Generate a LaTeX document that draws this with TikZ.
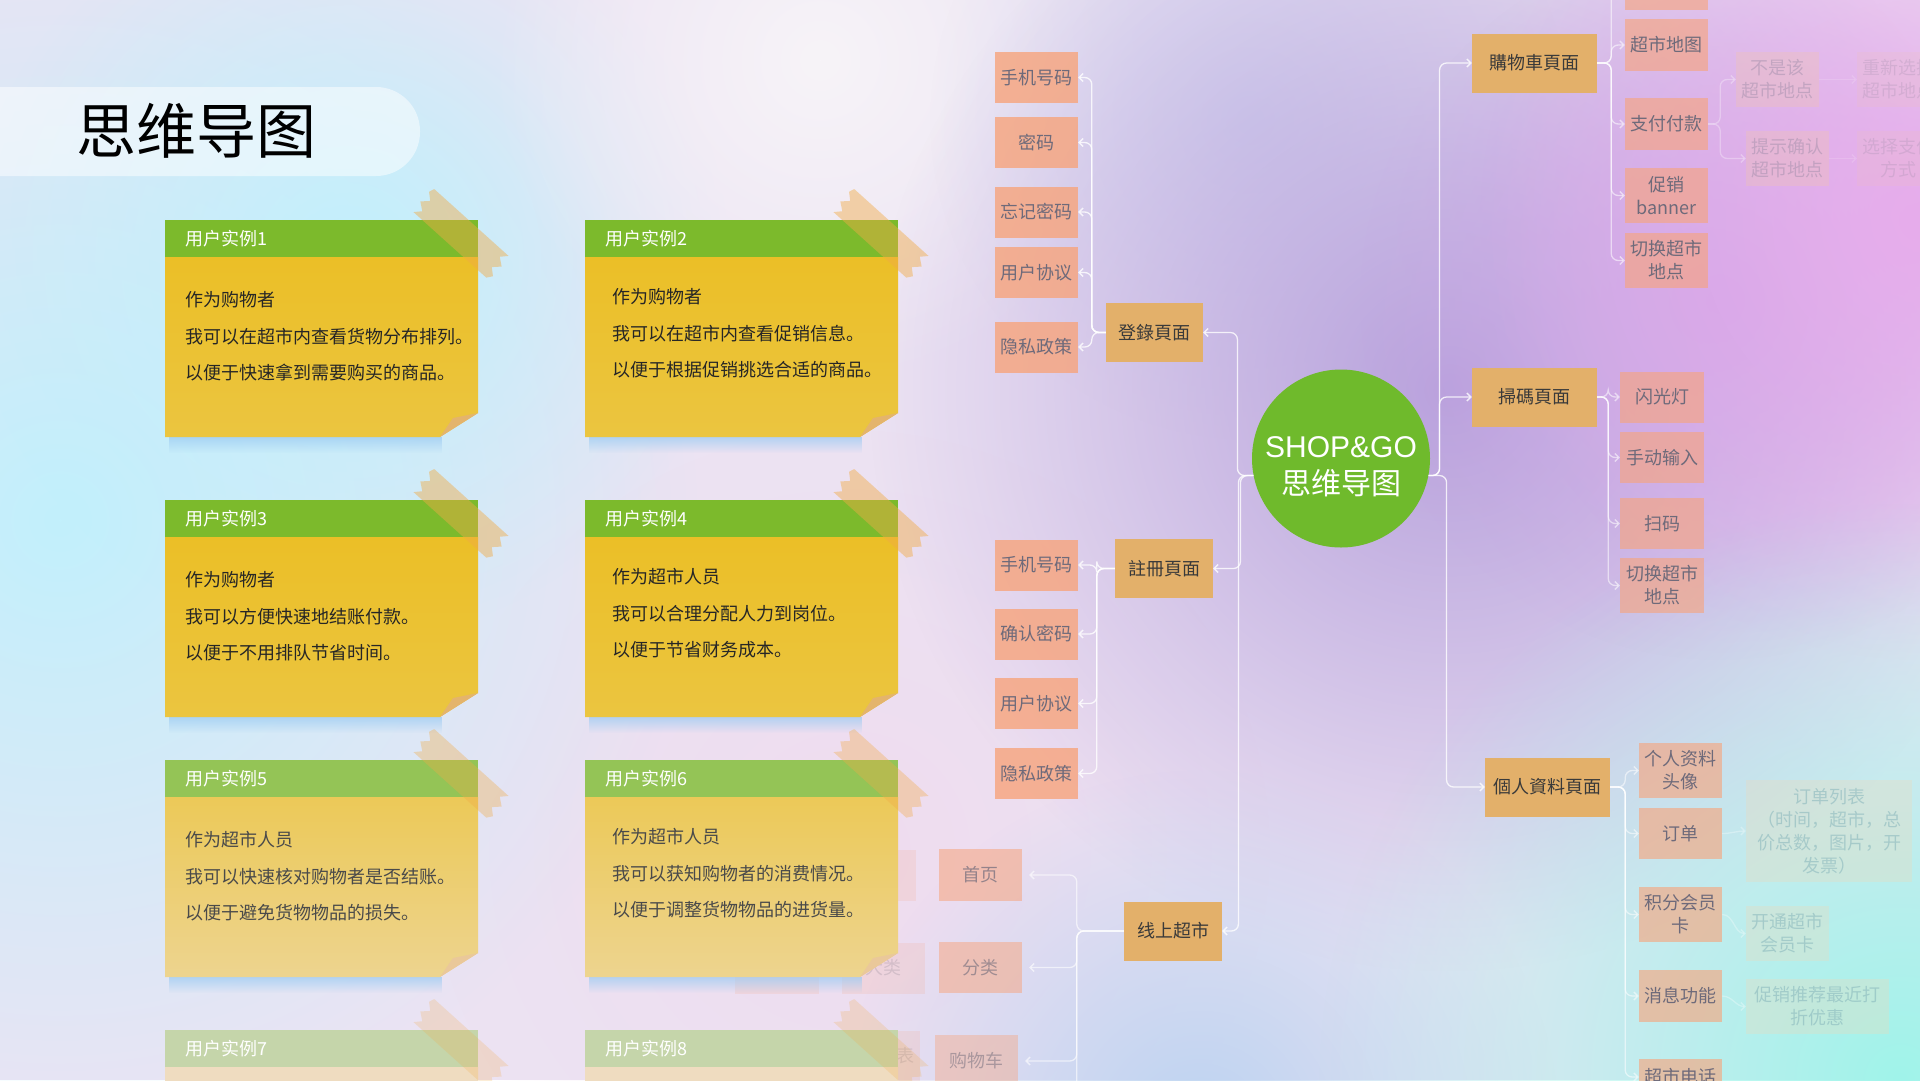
\documentclass[tikz,border=0pt]{standalone}
\usepackage{fontspec}
\setmainfont{Noto Sans CJK SC}
\newfontfamily\latinsans{Liberation Sans}
\usetikzlibrary{arrows.meta,fadings}
\definecolor{salm}{HTML}{F7A47C}
\definecolor{orng}{HTML}{E3B06A}
\definecolor{lv3text}{HTML}{6E6A7A}
\definecolor{lv2text}{HTML}{3A3A3A}
\definecolor{cgreen}{HTML}{6FBA2C}
\definecolor{bgbase}{HTML}{ECE3F3}
\definecolor{bgcyan}{HTML}{C2F0FC}
\definecolor{bgwhite}{HTML}{F7F4F8}
\definecolor{bgpurple}{HTML}{B7A1DC}
\definecolor{bgpurple2}{HTML}{CDA6E6}
\definecolor{bgpink}{HTML}{E7ACEC}
\definecolor{bgblue}{HTML}{BCD3F1}
\definecolor{bgmint}{HTML}{A0F4EA}
\definecolor{bglav}{HTML}{D6D6F0}
\definecolor{bgrose}{HTML}{EFDCEF}
\definecolor{tapec}{HTML}{F1AB46}
\definecolor{nshadow}{HTML}{9CCBF2}
\definecolor{faintbox}{HTML}{F3C6A8}
\definecolor{fainttxt}{HTML}{9A8AA8}
\definecolor{faintbox2}{HTML}{F0D8B8}
\definecolor{fainttxt2}{HTML}{7FB0B8}
\tikzfading[name=blob, inner color=transparent!0, outer color=transparent!100]
\tikzfading[name=fadedown, top color=transparent!30, bottom color=transparent!100]
\newcommand\mmfs{\fontsize{18}{23}\selectfont}
\tikzset{
  conn/.style={draw=white, draw opacity=0.8, line width=1.3pt, rounded corners=7pt, -{Straight Barb[length=4pt,width=8pt]}},
  fconn/.style={conn, draw opacity=0.3},
  lv2/.style={fill=orng, text=lv2text, minimum height=59pt, inner sep=2pt, font=\mmfs},
  lv3/.style={fill=salm, fill opacity=#1, text opacity=1, text=lv3text, minimum width=83pt, minimum height=51pt, inner sep=2pt, align=center, font=\mmfs},
  lv3/.default=0.75,
  faint/.style={fill=faintbox, fill opacity=0.3, text=fainttxt, text opacity=0.45, minimum width=83pt, minimum height=55pt, inner sep=2pt, align=center, font=\mmfs},
  faintb/.style={fill=faintbox2, fill opacity=0.3, text=fainttxt2, text opacity=0.5, minimum width=83pt, minimum height=55pt, inner sep=2pt, align=center, font=\mmfs},
  ghost/.style={fill=salm, fill opacity=0.16, text=lv3text, text opacity=0.2, minimum height=51pt, inner sep=2pt, font=\mmfs},
  notehead/.style={anchor=west, inner sep=0, text=white, font=\fontsize{18}{20}\selectfont},
  notebody/.style={anchor=west, inner sep=0, text=ntext, font=\fontsize{18}{20}\selectfont},
  ntape/.style={fill=tapec, fill opacity=0.45},
}
% #1 id, #2 left, #3 top, #4 header, #5-#7 lines, #8 text x offset, #9 first line y offset
\newcommand\stickynote[9]{%
  \pgfmathsetmacro\nR{#2+313}%
  \pgfmathsetmacro\nHB{#3+37}%
  \pgfmathsetmacro\nB{#3+217}%
  \fill[nshadow, path fading=fadedown] (#2+4,\nB) rectangle (\nR-36,\nB+16);
  \shade[top color=nbtop, bottom color=nbbot] (#2,\nHB) -- (\nR,\nHB) -- (\nR,\nB-24) -- (\nR-38,\nB) -- (#2,\nB) -- cycle;
  \fill[nfold] (\nR,\nB-24) -- (\nR-38,\nB) -- (\nR-25,\nB-19) -- cycle;
  \fill[nhead] (#2,#3) rectangle (\nR,\nHB);
  \node[notehead] (#1-h) at (#2+20,#3+19) {#4};
  \node[notebody] (#1-a) at (#2+#8,#3+#9) {#5};
  \node[notebody] (#1-b) at (#2+#8,#3+#9+37) {#6};
  \node[notebody] (#1-c) at (#2+#8,#3+#9+73) {#7};
  \begin{scope}[shift={(\nR-17,#3+14)},rotate=-42]
    \fill[ntape] (-50,-15.5) -- (50,-15.5) -- (44,-9) -- (52,-3) -- (45,4) -- (52,10) -- (48,15.5)
      -- (-50,15.5) -- (-44,9) -- (-52,3) -- (-45,-4) -- (-52,-10) -- cycle;
  \end{scope}
}
\begin{document}
\begin{tikzpicture}[x=1pt,y=-1pt]
\useasboundingbox (0,0) rectangle (1920,1080);
\clip (0,0) rectangle (1920,1080);
% ---------- background ----------
\fill[bgbase] (0,0) rectangle (1920,1080);
\fill[bgrose, path fading=blob] (850,850) circle (420);
\fill[bgcyan, path fading=blob] (60,520) circle (640);
\fill[bgcyan, path fading=blob] (350,260) circle (380);
\fill[bgwhite, path fading=blob] (820,60) circle (330);
\fill[bglav, path fading=blob] (1250,120) circle (320);
\fill[bgpurple, path fading=blob] (1450,390) circle (580);
\fill[bgpurple2, path fading=blob] (1720,300) circle (360);
\fill[bgpink, path fading=blob] (1920,220) circle (440);
\fill[bgblue, path fading=blob] (1200,1130) circle (360);
\fill[bgmint, path fading=blob] (1900,1080) circle (580);
% ---------- title ----------
\fill[white, opacity=0.5, rounded corners=44pt] (-60,87) rectangle (420,176);
\node[anchor=west, inner sep=0, text=black, font=\fontsize{60}{60}\selectfont] (title) at (76,131) {思维导图};
% ---------- ghost boxes (partly under the notes) ----------
\node[ghost, minimum width=103pt] (gh1) at (864.5,875.5) {打折};
\node[ghost, minimum width=83pt] (gh2) at (883.5,968) {大类};
\node[ghost, minimum width=84pt] (gh3) at (777,968) {小类};
\node[ghost, minimum width=102pt] (gh4) at (869,1056) {购物车列表};
% ---------- sticky notes ----------
\definecolor{nhead}{HTML}{7CBA2C}
\definecolor{nbtop}{HTML}{EBBF27}
\definecolor{nbbot}{HTML}{EBC540}
\definecolor{nfold}{HTML}{E4B46C}
\definecolor{ntext}{HTML}{262626}
\stickynote{n1}{165}{220}{用户实例1}{作为购物者}{我可以在超市内查看货物分布排列。}{以便于快速拿到需要购买的商品。}{20}{80}
\stickynote{n2}{585}{220}{用户实例2}{作为购物者}{我可以在超市内查看促销信息。}{以便于根据促销挑选合适的商品。}{27}{77}
\stickynote{n3}{165}{500}{用户实例3}{作为购物者}{我可以方便快速地结账付款。}{以便于不用排队节省时间。}{20}{80}
\stickynote{n4}{585}{500}{用户实例4}{作为超市人员}{我可以合理分配人力到岗位。}{以便于节省财务成本。}{27}{77}
\definecolor{nhead}{HTML}{94C456}
\definecolor{nbtop}{HTML}{ECC958}
\definecolor{nbbot}{HTML}{EDD48F}
\definecolor{nfold}{HTML}{EAC89A}
\definecolor{ntext}{HTML}{4A4A4A}
\tikzset{ntape/.style={fill=tapec, fill opacity=0.35}}
\stickynote{n5}{165}{760}{用户实例5}{作为超市人员}{我可以快速核对购物者是否结账。}{以便于避免货物物品的损失。}{20}{80}
\stickynote{n6}{585}{760}{用户实例6}{作为超市人员}{我可以获知购物者的消费情况。}{以便于调整货物物品的进货量。}{27}{77}
\definecolor{nhead}{HTML}{C5D5AA}
\definecolor{nbtop}{HTML}{EFDCC0}
\definecolor{nbbot}{HTML}{EFDCC0}
\tikzset{ntape/.style={fill=tapec, fill opacity=0.22}}
\stickynote{n7}{165}{1030}{用户实例7}{}{}{}{20}{80}
\stickynote{n8}{585}{1030}{用户实例8}{}{}{}{27}{77}
% ---------- mind map ----------
\node[circle, fill=cgreen, minimum size=178pt, inner sep=0] (C) at (1341,458.5) {};
\node[text=white, align=center, font=\fontsize{30}{37}\selectfont, inner sep=0] (Ct) at (1341,467) {{\latinsans SHOP\&GO}\\思维导图};

\node[lv2, minimum width=97pt] (login) at (1154.5,332.5) {登錄頁面};
\node[lv2, minimum width=98pt] (reg) at (1164,568.5) {註冊頁面};
\node[lv2, minimum width=98pt] (mall) at (1173,931) {线上超市};
\node[lv2, minimum width=125pt] (cart) at (1534.5,63) {購物車頁面};
\node[lv2, minimum width=125pt] (scan) at (1534.5,397) {掃碼頁面};
\node[lv2, minimum width=125pt] (prof) at (1547.5,787) {個人資料頁面};

\node[lv3=0.8] (l1) at (1036.5,77.5) {手机号码};
\node[lv3=0.8] (l2) at (1036.5,142.5) {密码};
\node[lv3=0.8] (l3) at (1036.5,212) {忘记密码};
\node[lv3=0.8] (l4) at (1036.5,272.5) {用户协议};
\node[lv3=0.8] (l5) at (1036.5,347) {隐私政策};

\node[lv3=0.8] (r1) at (1036.5,565) {手机号码};
\node[lv3=0.8] (r2) at (1036.5,634) {确认密码};
\node[lv3=0.8] (r3) at (1036.5,703.5) {用户协议};
\node[lv3=0.8] (r4) at (1036.5,773.5) {隐私政策};

\node[lv3=0.55, minimum height=52pt, text opacity=0.7] (m1) at (980.5,875) {首页};
\node[lv3=0.5, text opacity=0.6] (m2) at (980.5,967.5) {分类};
\node[lv3=0.4, minimum height=52pt, text opacity=0.5] (m3) at (976.5,1061) {购物车};
\coordinate (mallmore) at (1000,1150);

\node[lv3=0.62, minimum height=55pt] (k0) at (1666.5,-17.5) {};
\node[lv3=0.62, minimum height=52pt] (k1) at (1666.5,45) {超市地图};
\node[lv3=0.62, minimum height=52pt] (k2) at (1666.5,124) {支付付款};
\node[lv3=0.62, minimum height=55pt] (k3) at (1666.5,195.5) {促销\\banner};
\node[lv3=0.62, minimum height=55pt] (k4) at (1666.5,260.5) {切换超市\\地点};

\node[lv3=0.62, minimum width=84pt] (s1) at (1662,397) {闪光灯};
\node[lv3=0.62, minimum width=84pt] (s2) at (1662,457.5) {手动输入};
\node[lv3=0.62, minimum width=84pt] (s3) at (1662,523.5) {扫码};
\node[lv3=0.62, minimum width=84pt, minimum height=55pt] (s4) at (1662,585.5) {切换超市\\地点};

\node[lv3=0.62, minimum height=55pt] (p1) at (1680.5,770.5) {个人资料\\头像};
\node[lv3=0.62] (p2) at (1680.5,833.5) {订单};
\node[lv3=0.62, minimum height=55pt] (p3) at (1680.5,914.5) {积分会员\\卡};
\node[lv3=0.62, minimum height=52pt] (p4) at (1680.5,996) {消息功能};
\node[lv3=0.62, minimum height=36pt] (p5) at (1680.5,1077) {超市电话};

\node[faint] (f1) at (1777.5,79.5) {不是该\\超市地点};
\node[faint] (f2) at (1787.5,158.5) {提示确认\\超市地点};
\node[faint, fill opacity=0.15, text opacity=0.25] (f3) at (1898.5,79.5) {重新选择\\超市地点};
\node[faint, fill opacity=0.15, text opacity=0.25] (f4) at (1898.5,158.5) {选择支付\\方式};

\node[faintb, minimum width=166pt, minimum height=102pt] (g1) at (1829,831) {订单列表\\（时间，超市，总\\价总数，图片，开\\发票）};
\node[faintb] (g2) at (1787.5,933.5) {开通超市\\会员卡};
\node[faintb, minimum width=143pt] (g3) at (1817.5,1006.5) {促销推荐最近打\\折优惠};

% ---------- connectors ----------
\draw[conn] (C.191) -- ++(-16,0) |- (login.east);
\draw[conn] (C.191) -- ++(-13,0) |- (reg.east);
\draw[conn] (C.191) -- ++(-15,0) |- (mall.east);
\draw[conn] (C.-11) -- ++(11,0) |- (cart.west);
\draw[conn] (C.-11) -- ++(11,0) |- (scan.west);
\draw[conn] (C.-11) -- ++(18,0) |- (prof.west);

\foreach \c in {l1,l2,l3,l4,l5} \draw[conn] (login.west) -- ++(-14,0) |- (\c.east);
\foreach \c in {r1,r2,r3,r4} \draw[conn] (reg.west) -- ++(-18,0) |- (\c.east);
\foreach \c in {m1,m2,m3} \draw[conn, draw opacity=0.6, shorten >=7pt] (mall.west) -- ++(-47,0) |- (\c.east);
\draw[conn, draw opacity=0.6] (mall.west) -- ++(-47,0) |- (mallmore);
\foreach \c in {k0,k1,k2,k3,k4} \draw[conn, draw opacity=0.55] (cart.east) -- ++(14,0) |- (\c.west);
\foreach \c in {s1,s2,s3,s4} \draw[conn, draw opacity=0.55] (scan.east) -- ++(11,0) |- (\c.west);
\foreach \c in {p1,p2,p3,p4,p5} \draw[conn, draw opacity=0.55] (prof.east) -- ++(15,0) |- (\c.west);

\draw[fconn] (k2.east) -- ++(12,0) |- (f1.west);
\draw[fconn] (k2.east) -- ++(12,0) |- (f2.west);
\draw[fconn, draw opacity=0.15] (f1.east) -- (f3.west);
\draw[fconn, draw opacity=0.15] (f2.east) -- (f4.west);
\draw[fconn] (p2.east) to[out=0,in=180] (g1.west);
\draw[fconn] (p3.east) to[out=0,in=180] (g2.west);
\draw[fconn] (p4.east) to[out=0,in=180] (g3.west);
\end{tikzpicture}
\end{document}
